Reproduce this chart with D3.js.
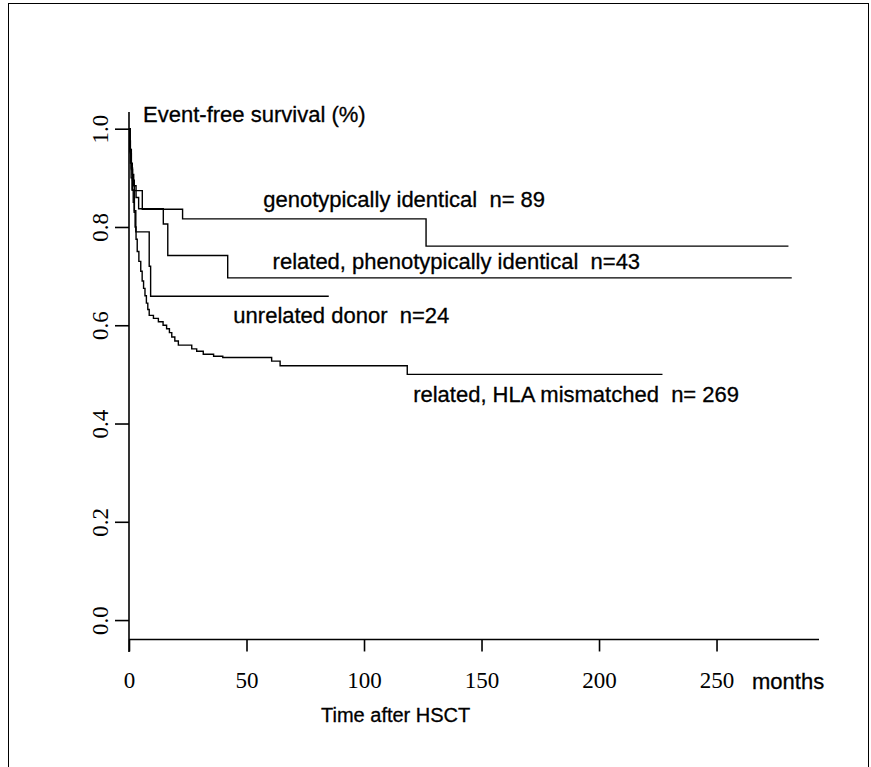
<!DOCTYPE html>
<html>
<head>
<meta charset="utf-8">
<script src="https://cdn.jsdelivr.net/npm/d3@7"></script>
<style>
  body { margin: 0; background: #fff; }
  svg { display: block; }
  .lab { font-family: 'Liberation Sans', Arial, sans-serif; font-size: 22px; fill: #000; stroke: #000; stroke-width: 0.3px; }
  .tick text { font-family: 'Liberation Serif', 'Times New Roman', serif; font-size: 23px; fill: #000; }
</style>
</head>
<body>
<div id="root"></div>
<script>
const width = 871
const height = 767

const xTicks = [ 0, 50, 100, 150, 200, 250 ]
const yTicks = [ 0, 0.2, 0.4, 0.6, 0.8, 1.0 ]

const groupNames = [
  'genotypically identical  n= 89',
  'related, phenotypically identical  n=43',
  'unrelated donor  n=24',
  'related, HLA mismatched  n= 269'
]

// [months, survival]
const genoIdentical = [
  [ 0, 1.0 ], [ 0.3, 0.975 ], [ 0.6, 0.95 ], [ 1.0, 0.92 ], [ 1.5, 0.895 ], [ 2.25, 0.874 ],
  [ 5.66, 0.836 ], [ 22.8, 0.8165 ], [ 126.4, 0.761 ], [ 280.6, 0.761 ]
]
const phenoIdentical = [
  [ 0, 1.0 ], [ 0.4, 0.953 ], [ 0.9, 0.93 ], [ 1.4, 0.907 ], [ 2.0, 0.884 ], [ 3.0, 0.86 ],
  [ 4.1, 0.837 ], [ 14.6, 0.806 ], [ 16.5, 0.742 ], [ 42.0, 0.6965 ], [ 282.0, 0.6965 ]
]
const unrelatedDonor = [
  [ 0, 1.0 ], [ 0.5, 0.958 ], [ 1.0, 0.917 ], [ 1.5, 0.875 ], [ 2.3, 0.833 ], [ 2.9, 0.79 ],
  [ 8.6, 0.72 ], [ 9.2, 0.659 ], [ 85.0, 0.659 ]
]
const hlaMismatched = [
  [ 0, 1.0 ], [ 0.3, 0.96 ], [ 0.6, 0.93 ], [ 0.9, 0.9 ], [ 1.3, 0.875 ], [ 1.8, 0.85 ],
  [ 2.2, 0.83 ], [ 2.6, 0.8 ], [ 3.0, 0.775 ], [ 3.5, 0.75 ], [ 4.2, 0.73 ], [ 5.0, 0.71 ],
  [ 5.6, 0.69 ], [ 6.2, 0.675 ], [ 6.8, 0.66 ], [ 7.4, 0.645 ], [ 8.0, 0.632 ], [ 8.6, 0.62 ],
  [ 10.4, 0.614 ], [ 12.5, 0.607 ], [ 14.5, 0.6 ], [ 16.0, 0.593 ], [ 17.2, 0.585 ], [ 18.2, 0.576 ],
  [ 19.5, 0.568 ], [ 21.0, 0.5595 ], [ 26.7, 0.552 ], [ 28.8, 0.547 ], [ 31.6, 0.541 ], [ 36.0, 0.537 ],
  [ 39.9, 0.5345 ], [ 60.7, 0.527 ], [ 64.3, 0.5175 ], [ 118.4, 0.5 ], [ 227.0, 0.5 ]
]

const curves = [ genoIdentical, phenoIdentical, unrelatedDonor, hlaMismatched ]
// label anchors in data units (start x, baseline y)
const labelAt = [ [ 57.1, 0.841 ], [ 61.1, 0.7135 ], [ 44.4, 0.605 ], [ 120.9, 0.4441 ] ]

const x = d3.scaleLinear().domain([ 0, 293.6 ]).range([ 129, 819 ])
const y = d3.scaleLinear().domain([ -0.065, 1.034 ]).range([ 652, 112 ])

const svg = d3.select('#root').append('svg')
  .attr('width', width)
  .attr('height', height)

svg.append('rect')
  .attr('x', 8.5).attr('y', 3.5)
  .attr('width', 860).attr('height', 780)
  .attr('fill', 'none').attr('stroke', '#000').attr('stroke-width', 1)

const xAxis = svg.append('g')
  .attr('transform', 'translate(0,' + y(-0.0395) + ')')
  .call(d3.axisBottom(x).tickValues(xTicks).tickFormat(d3.format('d')).tickSizeOuter(0).tickSize(12).tickPadding(20))
xAxis.selectAll('path, line').attr('stroke', '#000').attr('stroke-width', 1.6)
xAxis.select('.domain').attr('d', 'M' + x(0) + ',0H' + x(293.6))

const yAxis = svg.append('g')
  .attr('transform', 'translate(' + x(0) + ',0)')
  .call(d3.axisLeft(y).tickValues(yTicks).tickFormat(d3.format('.1f')).tickSizeOuter(0).tickSize(14))
yAxis.selectAll('path, line').attr('stroke', '#000').attr('stroke-width', 1.6)
yAxis.select('.domain').attr('d', 'M0,' + y(-0.065) + 'V' + y(1.034))
yAxis.selectAll('.tick text')
  .attr('x', 0).attr('y', -21).attr('dy', 0)
  .attr('text-anchor', 'middle')
  .attr('transform', 'rotate(-90)')

const line = d3.line()
  .x(d => x(d[0]))
  .y(d => y(d[1]))
  .curve(d3.curveStepAfter)

svg.append('g').selectAll('path')
  .data(curves)
  .enter()
  .append('path')
  .attr('d', line)
  .attr('fill', 'none')
  .attr('stroke', '#000')
  .attr('stroke-width', 1.4)

svg.append('g').selectAll('text')
  .data(groupNames)
  .enter()
  .append('text')
  .attr('class', 'lab')
  .attr('x', (d, i) => x(labelAt[i][0]))
  .attr('y', (d, i) => y(labelAt[i][1]))
  .attr('xml:space', 'preserve')
  .style('white-space', 'pre')
  .text(d => d)

svg.append('text').attr('class', 'lab')
  .attr('x', x(6)).attr('y', y(1.0138))
  .text('Event-free survival (%)')

svg.append('text').attr('class', 'lab')
  .attr('x', 752).attr('y', 689)
  .text('months')

svg.append('text').attr('class', 'lab')
  .attr('x', 321).attr('y', 722)
  .style('font-size', '20px')
  .text('Time after HSCT')
</script>
</body>
</html>
